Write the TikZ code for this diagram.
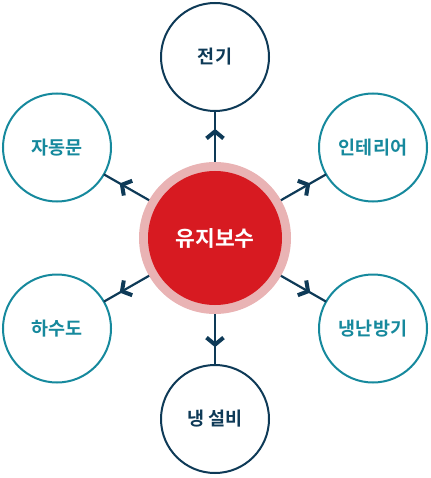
\documentclass[tikz,border=0pt]{standalone}
\usepackage{fontspec}
\setmainfont{Noto Sans CJK KR}[BoldFont={Noto Sans CJK KR Bold}]
\usetikzlibrary{decorations.markings}
\definecolor{navy}{HTML}{0E3A57}
\definecolor{teal}{HTML}{16899D}
\definecolor{hubred}{HTML}{D71A21}
\definecolor{hubpink}{HTML}{E9B3B4}
\tikzset{
  sat/.style={circle, draw=#1, line width=2pt, fill=white, minimum size=108pt, inner sep=0pt, outer sep=0pt, text=#1, font=\bfseries\fontsize{18.5}{20}\selectfont},
  link/.style={draw=navy, line width=2.2pt, postaction={decorate},
    decoration={markings, mark=at position 0.6 with {\draw[navy, line width=4pt, line join=miter] (-7pt,8.5pt) -- (0,0) -- (-7pt,-8.5pt);}}}
}
\begin{document}
\begin{tikzpicture}[x=1pt,y=-1pt]
\useasboundingbox (0,0) rectangle (430,478);
\node[circle, fill=hubpink, minimum size=152pt, inner sep=0pt, outer sep=0pt] (c) at (215,238) {};
\node[circle, fill=hubred, minimum size=134pt, inner sep=0pt, text=white, font=\bfseries\fontsize{21.5}{23}\selectfont] (ci) at (215,238) {유지보수};
\node[sat=navy] (t) at (215,57) {전기};
\node[sat=navy] (b) at (215,419) {냉 설비};
\node[sat=teal] (lu) at (57,147.5) {자동문};
\node[sat=teal] (ru) at (373,147.5) {인테리어};
\node[sat=teal] (ld) at (57,328.5) {하수도};
\node[sat=teal] (rd) at (373,328.5) {냉난방기};
\foreach \s in {t,b,lu,ru,ld,rd} \path[link] (c) -- (\s);
\end{tikzpicture}
\end{document}
